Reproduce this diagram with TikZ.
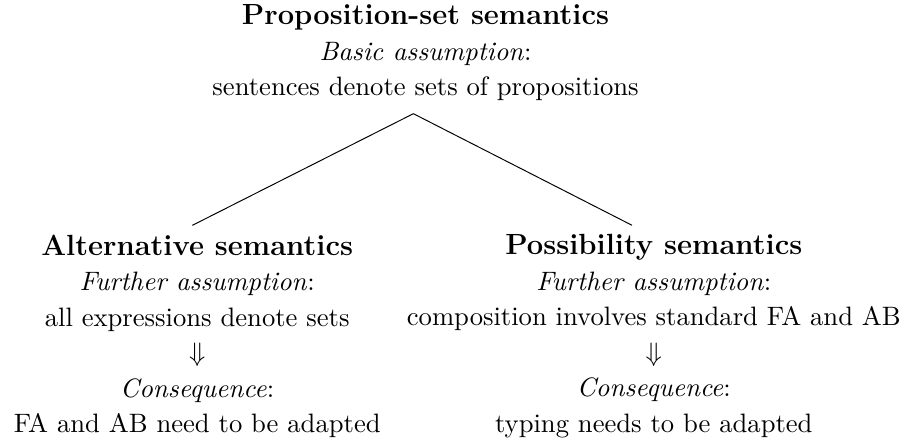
\documentclass[11pt,tikz,border=0pt]{standalone}
\usepackage{amsmath}
\usetikzlibrary{positioning}
\usetikzlibrary{calc}
\usetikzlibrary{trees}

\begin{document}
\begin{tikzpicture}[level distance=4.1cm, sibling distance=6.6cm,
    edge from parent/.style={draw=none},
    every node/.style={align=center}]

%T: top of the tree
\node (ps) {{\large\textbf{Proposition-set semantics}}\\[1pt]
    \emph{Basic assumption}:\\[1pt]
    sentences denote sets of propositions}
child {node (alt) {{\large\textbf{Alternative semantics}}\\[1pt]
    \emph{Further assumption}:\\[1pt]
    all expressions denote sets\\[1pt]
    $\Downarrow$\\[1pt]
    \emph{Consequence}:\\[1pt]
    FA and AB need to be adapted}}
child {node (pos) {{\large\textbf{Possibility semantics}}\\[1pt]
    \emph{Further assumption}:\\[1pt]
    composition involves standard FA and AB\\[1pt]
    $\Downarrow$\\[1pt]
    \emph{Consequence}:\\[1pt]
    typing needs to be adapted}};


% branches
\path[draw]
([shift={(-5pt,-1.5pt)}]ps.south) edge ([xshift=-2pt]alt.north)
([shift={(-5pt,-1.5pt)}]ps.south) edge ([xshift=-9pt]pos.north)
;


\pgfresetboundingbox
\useasboundingbox ([shift={(-175pt,-2pt)}]ps.north) rectangle ++(373pt,-181pt);
\end{tikzpicture}
\end{document}
